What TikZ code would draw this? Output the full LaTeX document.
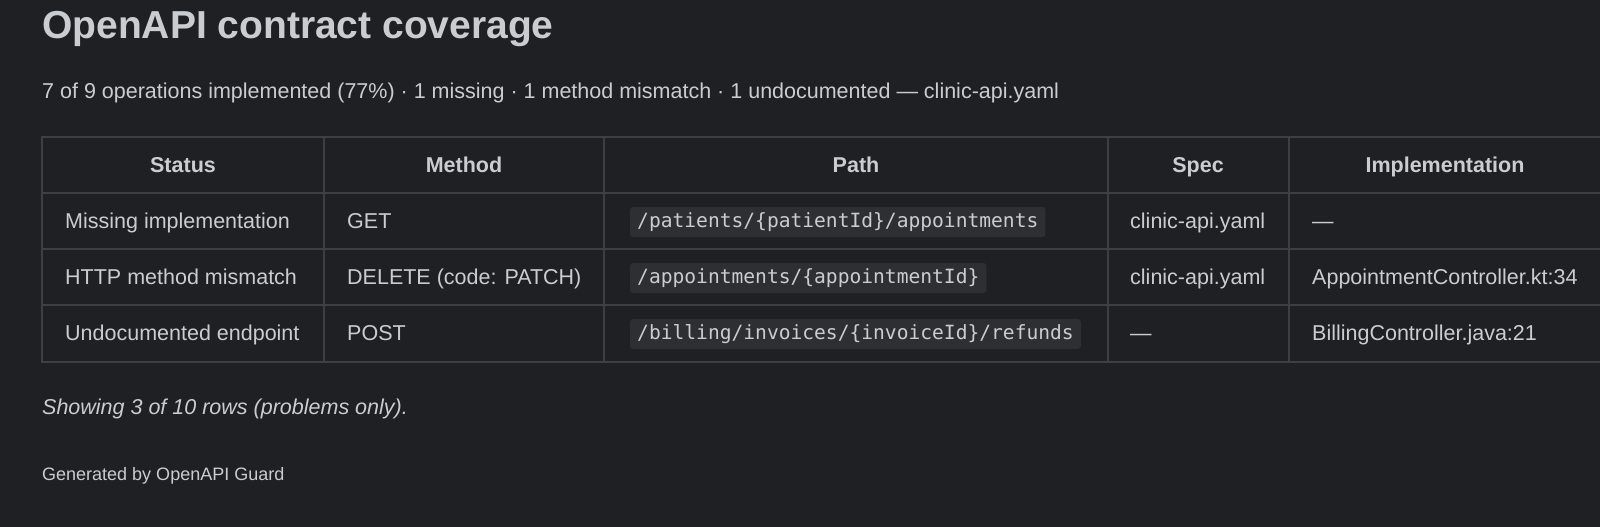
\documentclass[tikz,border=0pt]{standalone}
\usepackage{fontspec}
\setmainfont{Liberation Sans}
\setmonofont{DejaVu Sans Mono}
\begin{document}
\definecolor{bg}{HTML}{1F2023}
\definecolor{fg}{HTML}{C9CDD1}
\definecolor{grid}{HTML}{3D3F44}
\definecolor{codebg}{HTML}{2E2F33}
\begin{tikzpicture}[x=1pt,y=-1pt,
  txt/.style={text=fg,inner sep=0pt,anchor=base west,font=\fontsize{21.5}{25}\selectfont},
  hdr/.style={text=fg,inner sep=0pt,anchor=base,font=\bfseries\fontsize{21.5}{25}\selectfont},
  code/.style={text=fg,fill=codebg,rounded corners=3pt,inner xsep=7pt,inner ysep=0pt,minimum height=30pt,anchor=west,font=\ttfamily\fontsize{19.6}{23}\selectfont}]
\fill[bg] (0,0) rectangle (1600,527);
\useasboundingbox (0,0) rectangle (1600,527);
\node[txt,font=\bfseries\fontsize{39}{45}\selectfont] (title) at (42,38) {OpenAPI contract coverage};
\node[txt] (sub) at (42,98) {7 of 9 operations implemented (77\%) · 1 missing · 1 method mismatch · 1 undocumented — clinic-api.yaml};
% table grid
\draw[grid,line width=1.5pt] (1600,137) -- (42,137) -- (42,362) -- (1600,362);
\foreach \y in {193,249,305} \draw[grid,line width=1.5pt] (42,\y) -- (1600,\y);
\foreach \x in {324,604,1108,1289} \draw[grid,line width=1.5pt] (\x,137) -- (\x,362);
% headers
\node[hdr] (h1) at (183,172) {Status};
\node[hdr] (h2) at (464,172) {Method};
\node[hdr] (h3) at (856,172) {Path};
\node[hdr] (h4) at (1198,172) {Spec};
\node[hdr] (h5) at (1445,172) {Implementation};
% row 1
\node[txt] (r1a) at (65,228) {Missing implementation};
\node[txt] (r1b) at (347,228) {GET};
\node[code] (r1c) at (630,222) {/patients/\{patientId\}/appointments};
\node[txt] (r1d) at (1130,228) {clinic-api.yaml};
\node[txt] (r1e) at (1312,228) {—};
% row 2
\node[txt] (r2a) at (65,284) {HTTP method mismatch};
\node[txt] (r2b) at (347,284) {DELETE (code: PATCH)};
\node[code] (r2c) at (630,278) {/appointments/\{appointmentId\}};
\node[txt] (r2d) at (1130,284) {clinic-api.yaml};
\begin{scope}
\clip (1290,240) rectangle (1600,300);
\node[txt] (r2e) at (1312,284) {AppointmentController.kt:34};
\end{scope}
% row 3
\node[txt] (r3a) at (65,340) {Undocumented endpoint};
\node[txt] (r3b) at (347,340) {POST};
\node[code] (r3c) at (630,334) {/billing/invoices/\{invoiceId\}/refunds};
\node[txt] (r3d) at (1130,340) {—};
\node[txt] (r3e) at (1312,340) {BillingController.java:21};
\node[txt,font=\itshape\fontsize{21.5}{25}\selectfont] (note) at (42,414) {Showing 3 of 10 rows (problems only).};
\node[txt,font=\fontsize{18}{21}\selectfont] (gen) at (42,480) {Generated by OpenAPI Guard};
\end{tikzpicture}
\end{document}
